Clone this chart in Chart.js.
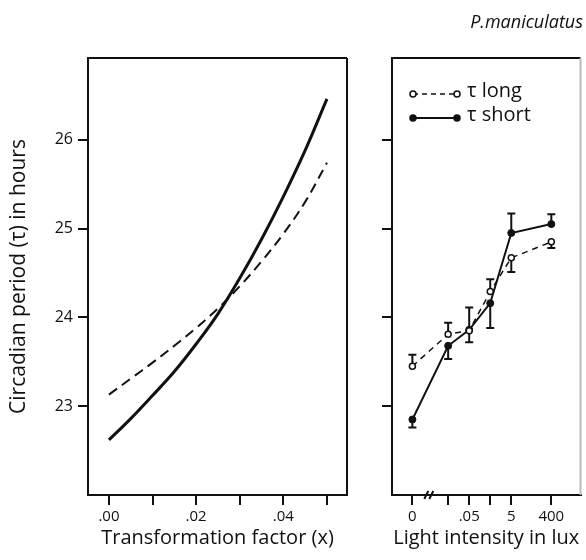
<!DOCTYPE html>
<html>
<head>
<meta charset="utf-8">
<script src="https://cdn.jsdelivr.net/npm/chart.js@4.4.0/dist/chart.umd.min.js"></script>
<style>
  html, body { margin: 0; padding: 0; background: #fff; overflow: hidden; }
  #wrap { position: relative; width: 586px; height: 560px; }
  canvas { position: absolute; left: 0; top: 0; }
  #species {
    position: absolute; right: 3px; top: 9px;
    font: italic 18px "Open Sans", sans-serif; color: #111;
  }
</style>
</head>
<body>
<div id="wrap">
  <canvas id="modelCanvas" width="586" height="560"></canvas>
  <canvas id="luxCanvas" width="586" height="560"></canvas>
  <div id="species">P.maniculatus</div>
</div>
<script>
// model curves: tau against transformation factor
var factor = [0, 0.005, 0.01, 0.015, 0.02, 0.025, 0.03, 0.035, 0.04, 0.045, 0.05];
var tauShortModel = [22.62, 22.86, 23.12, 23.39, 23.70, 24.04, 24.44, 24.88, 25.36, 25.88, 26.46];
var tauLongModel = [23.13, 23.31, 23.49, 23.68, 23.88, 24.10, 24.35, 24.63, 24.94, 25.30, 25.74];
var factorTicks = [0, 0.01, 0.02, 0.03, 0.04, 0.05];

// measured tau against light intensity (lux)
var luxLevels = [0, 0.005, 0.05, 0.5, 5, 400];
var luxTickLabels = ['0', '', '.05', '', '5', '400'];
var tauLong = [23.45, 23.81, 23.85, 24.29, 24.67, 24.85];
var tauLongErr = [23.58, 23.94, 24.11, 24.43, 24.51, 24.78];
var tauShort = [22.85, 23.68, 23.86, 24.16, 24.95, 25.05];
var tauShortErr = [22.76, 23.53, 23.72, 23.88, 25.17, 25.16];

var tauTicks = [23, 24, 25, 26];

// 0 lux cannot sit on a log axis, so it is drawn past a break
var ZERO_LUX = 1e-4;

var INK = '#111';
var FONT = '"Open Sans", sans-serif';

function points(xs, ys) {
  return xs.map(function(x, i) { return {x: x, y: ys[i]}; });
}

function luxPos(v) {
  return v === 0 ? ZERO_LUX : v;
}

function fixTicks(values) {
  return function(scale) {
    scale.ticks = values.map(function(v) { return {value: v}; });
  };
}

var framePlugin = {
  id: 'frame',
  afterDraw: function(chart, args, opts) {
    var a = chart.chartArea, ctx = chart.ctx;
    ctx.save();
    ctx.lineWidth = 2;
    ctx.strokeStyle = INK;
    ctx.beginPath();
    ctx.moveTo(a.left, a.bottom);
    ctx.lineTo(a.left, a.top);
    ctx.lineTo(a.right, a.top);
    ctx.stroke();
    ctx.strokeStyle = opts.rightColor || INK;
    ctx.beginPath();
    ctx.moveTo(a.right, a.top);
    ctx.lineTo(a.right, a.bottom);
    ctx.stroke();
    ctx.restore();
  }
};

var errorBarPlugin = {
  id: 'errorBars',
  beforeDatasetsDraw: function(chart) {
    var ctx = chart.ctx, ys = chart.scales.y;
    ctx.save();
    ctx.strokeStyle = INK;
    ctx.lineWidth = 2;
    chart.data.datasets.forEach(function(ds, i) {
      if (!ds.errorTo) return;
      chart.getDatasetMeta(i).data.forEach(function(pt, j) {
        var yEnd = ys.getPixelForValue(ds.errorTo[j]);
        ctx.beginPath();
        ctx.moveTo(pt.x, pt.y);
        ctx.lineTo(pt.x, yEnd);
        ctx.moveTo(pt.x - 4, yEnd);
        ctx.lineTo(pt.x + 4, yEnd);
        ctx.stroke();
      });
    });
    ctx.restore();
  }
};

var luxExtrasPlugin = {
  id: 'luxExtras',
  afterDraw: function(chart) {
    var ctx = chart.ctx, a = chart.chartArea, xs = chart.scales.x;
    ctx.save();
    ctx.strokeStyle = INK;
    ctx.fillStyle = INK;

    // axis break between 0 and the first light level
    var bx = (xs.getPixelForValue(ZERO_LUX) + xs.getPixelForValue(luxLevels[1])) / 2 - 1;
    ctx.lineWidth = 2;
    ctx.beginPath();
    ctx.moveTo(bx - 5, a.bottom + 4);
    ctx.lineTo(bx - 1, a.bottom - 4);
    ctx.moveTo(bx, a.bottom + 4);
    ctx.lineTo(bx + 4, a.bottom - 4);
    ctx.stroke();

    // legend
    var x0 = a.left + 21, x1 = a.left + 65;
    var rows = [
      {y: a.top + 36, dash: [5, 4], open: true, text: 'τ long'},
      {y: a.top + 60, dash: [], open: false, text: 'τ short'}
    ];
    ctx.font = '20px ' + FONT;
    ctx.textBaseline = 'middle';
    rows.forEach(function(r) {
      ctx.lineWidth = r.open ? 1.5 : 2;
      ctx.setLineDash(r.dash);
      ctx.beginPath();
      ctx.moveTo(x0, r.y);
      ctx.lineTo(x1, r.y);
      ctx.stroke();
      ctx.setLineDash([]);
      [x0, x1].forEach(function(cx) {
        ctx.beginPath();
        ctx.arc(cx, r.y, 3, 0, Math.PI * 2);
        ctx.fillStyle = r.open ? '#fff' : INK;
        ctx.fill();
        ctx.lineWidth = 1.5;
        ctx.stroke();
      });
      ctx.fillStyle = INK;
      ctx.fillText(r.text, x1 + 10, r.y - 3);
    });
    ctx.restore();
  }
};

var tickGrid = {
  display: true,
  drawOnChartArea: false,
  drawTicks: true,
  tickLength: 10,
  color: INK,
  lineWidth: 2
};
var axisBorder = {display: true, color: INK, width: 2};

// left panel
new Chart(document.getElementById('modelCanvas'), {
  type: 'line',
  data: {
    datasets: [{
      data: points(factor, tauShortModel),
      borderColor: INK,
      borderWidth: 3,
      pointRadius: 0,
      tension: 0.4
    }, {
      data: points(factor, tauLongModel),
      borderColor: INK,
      borderWidth: 2,
      borderDash: [10, 6],
      pointRadius: 0,
      tension: 0.4
    }]
  },
  options: {
    responsive: false,
    animation: false,
    layout: {padding: {left: 0, top: 58, right: 239, bottom: 0}},
    plugins: {legend: {display: false}, tooltip: {enabled: false}, frame: {}},
    scales: {
      x: {
        type: 'linear',
        min: -0.0048,
        max: 0.0546,
        afterBuildTicks: fixTicks(factorTicks),
        afterFit: function(s) { s.height = 65; },
        grid: tickGrid,
        border: axisBorder,
        ticks: {
          color: INK,
          font: {family: FONT, size: 15},
          padding: 3,
          maxRotation: 0,
          autoSkip: false,
          callback: function(v) {
            var k = Math.round(v * 100);
            return k % 2 === 0 ? '.0' + k : '';
          }
        },
        title: {
          display: true,
          text: 'Transformation factor (x)',
          color: INK,
          font: {family: FONT, size: 20},
          padding: {top: 0, bottom: 10}
        }
      },
      y: {
        type: 'linear',
        min: 22.0,
        max: 26.92,
        afterBuildTicks: fixTicks(tauTicks),
        afterFit: function(s) { s.width = 88; },
        grid: tickGrid,
        border: axisBorder,
        ticks: {color: INK, font: {family: FONT, size: 16}, padding: 5},
        title: {
          display: true,
          text: 'Circadian period (τ) in hours',
          color: INK,
          font: {family: FONT, size: 21},
          padding: {top: 6, bottom: 0}
        }
      }
    }
  },
  plugins: [framePlugin]
});

// right panel
new Chart(document.getElementById('luxCanvas'), {
  type: 'line',
  data: {
    datasets: [{
      label: 'τ long',
      data: points(luxLevels.map(luxPos), tauLong),
      errorTo: tauLongErr,
      borderColor: INK,
      borderWidth: 1.5,
      borderDash: [6, 5],
      pointRadius: 3,
      pointBorderWidth: 1.5,
      pointBackgroundColor: '#fff',
      pointBorderColor: INK,
      tension: 0
    }, {
      label: 'τ short',
      data: points(luxLevels.map(luxPos), tauShort),
      errorTo: tauShortErr,
      borderColor: INK,
      borderWidth: 2,
      pointRadius: 3.5,
      pointBorderWidth: 1,
      pointBackgroundColor: INK,
      pointBorderColor: INK,
      tension: 0
    }]
  },
  options: {
    responsive: false,
    animation: false,
    layout: {padding: {left: 372, top: 58, right: 0, bottom: 0}},
    plugins: {legend: {display: false}, tooltip: {enabled: false}, frame: {rightColor: '#bbb'}},
    scales: {
      x: {
        type: 'logarithmic',
        min: 1.073e-5,
        max: 9730,
        afterBuildTicks: fixTicks(luxLevels.map(luxPos)),
        afterFit: function(s) { s.height = 65; },
        grid: tickGrid,
        border: axisBorder,
        ticks: {
          color: INK,
          font: {family: FONT, size: 15},
          padding: 3,
          maxRotation: 0,
          autoSkip: false,
          callback: function(v, i) { return luxTickLabels[i]; }
        },
        title: {
          display: true,
          text: 'Light intensity in lux',
          color: INK,
          font: {family: FONT, size: 20},
          padding: {top: 0, bottom: 10}
        }
      },
      y: {
        type: 'linear',
        min: 22.0,
        max: 26.92,
        afterBuildTicks: fixTicks(tauTicks),
        afterFit: function(s) { s.width = 20; },
        grid: tickGrid,
        border: axisBorder,
        ticks: {callback: function() { return ''; }}
      }
    }
  },
  plugins: [framePlugin, errorBarPlugin, luxExtrasPlugin]
});
</script>
</body>
</html>
